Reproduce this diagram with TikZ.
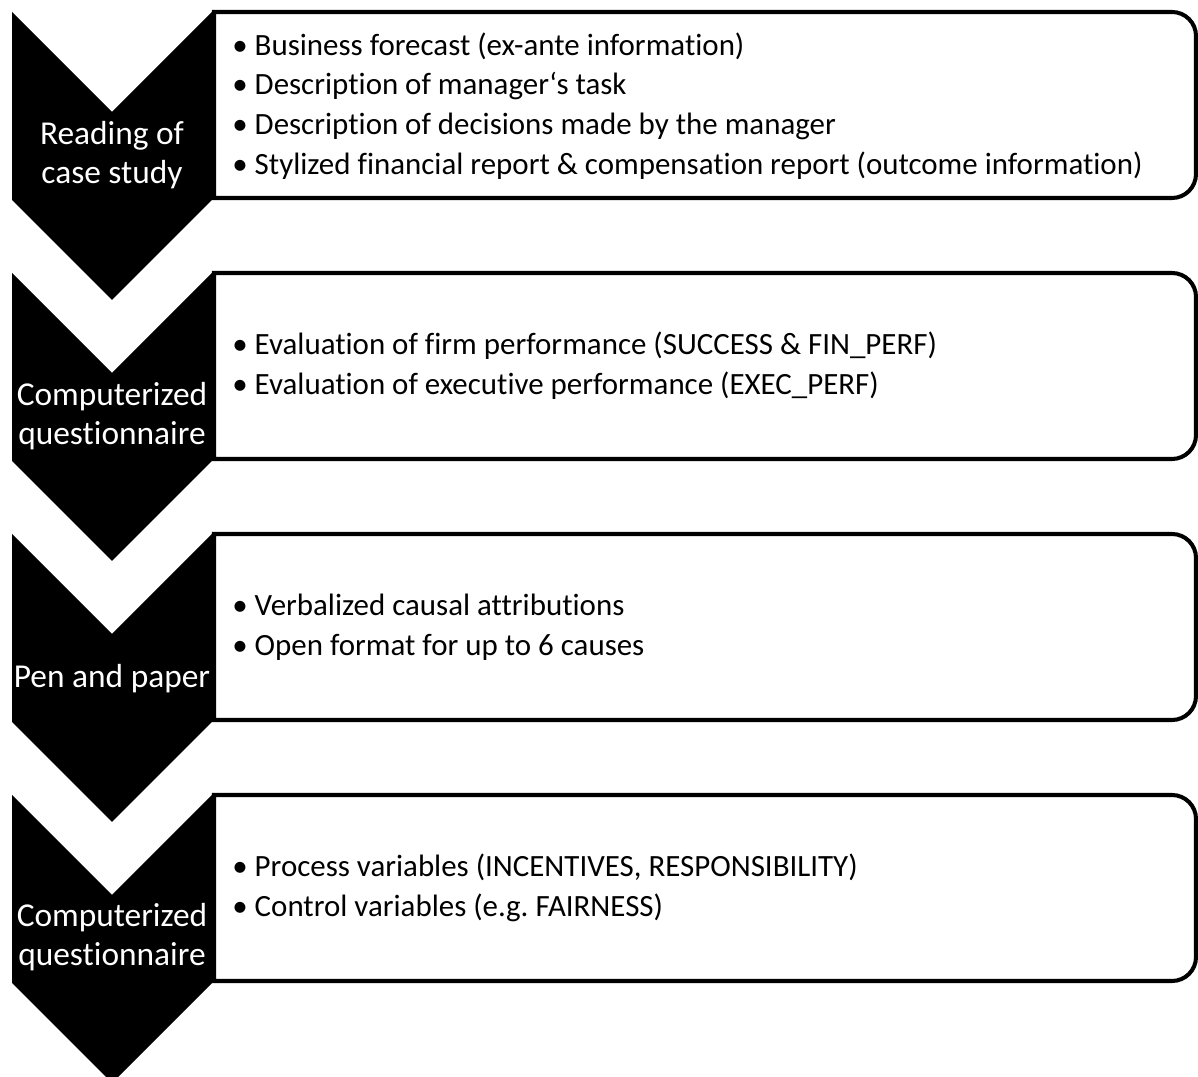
\documentclass[tikz,border=0pt]{standalone}
\usepackage{fontspec}
\setmainfont{Carlito}[Ligatures=CommonOff]
\frenchspacing

\begin{document}
\begin{tikzpicture}[
  x=0.02cm, y=-0.02cm,
  font=\fontsize{17.6}{22.6}\selectfont,
  chev/.style={fill=black, draw=none},
  stage/.style={text=white, align=center, inner sep=0pt, font=\fontsize{19}{21.8}\selectfont},
  frame/.style={draw=black, line width=2.3pt, fill=white},
  items/.style={anchor=west, align=left, inner sep=0pt}
]
\useasboundingbox (0,0) rectangle (1198,1077);

% frames, right corners rounded only
\draw[frame] (214,198) -- (214,12) -- (705,12) [rounded corners=0.48cm] -- (1196,12) -- (1196,198) -- (705,198) [sharp corners] -- (214,198) -- cycle;
\draw[frame] (214,459) -- (214,273) -- (705,273) [rounded corners=0.48cm] -- (1196,273) -- (1196,459) -- (705,459) [sharp corners] -- (214,459) -- cycle;
\draw[frame] (214,720) -- (214,534) -- (705,534) [rounded corners=0.48cm] -- (1196,534) -- (1196,720) -- (705,720) [sharp corners] -- (214,720) -- cycle;
\draw[frame] (214,981) -- (214,795) -- (705,795) [rounded corners=0.48cm] -- (1196,795) -- (1196,981) -- (705,981) [sharp corners] -- (214,981) -- cycle;

% chevrons
\fill[chev] (12,12) -- (112,112) -- (212,12) -- (212,200) -- (112,300) -- (12,200) -- cycle;
\fill[chev] (12,273) -- (112,373) -- (212,273) -- (212,461) -- (112,561) -- (12,461) -- cycle;
\fill[chev] (12,534) -- (112,634) -- (212,534) -- (212,722) -- (112,822) -- (12,722) -- cycle;
\fill[chev] (12,795) -- (112,895) -- (212,795) -- (212,983) -- (112,1083) -- (12,983) -- cycle;

% stage labels
\node[stage] (read) at (112,155) {Reading of\\case study};
\node[stage] (quest1) at (112,416) {Computerized\\questionnaire};
\node[stage] (pen) at (112,679) {Pen and paper};
\node[stage] (quest2) at (112,937) {Computerized\\questionnaire};

% contents of each stage
\node[items] (case) at (232,106) {• Business forecast (ex-ante information)\\
  • Description of manager‘s task\\
  • Description of decisions made by the manager\\
  • Stylized financial report \& compensation report (outcome information)};
\node[items] (eval) at (232,366) {• Evaluation of firm performance (SUCCESS \& FIN\_PERF)\\
  • Evaluation of executive performance (EXEC\_PERF)};
\node[items] (attr) at (232,627) {• Verbalized causal attributions\\
  • Open format for up to 6 causes};
\node[items] (ctrl) at (232,888) {• Process variables (INCENTIVES, RESPONSIBILITY)\\
  • Control variables (e.g. FAIRNESS)};

\end{tikzpicture}
\end{document}
